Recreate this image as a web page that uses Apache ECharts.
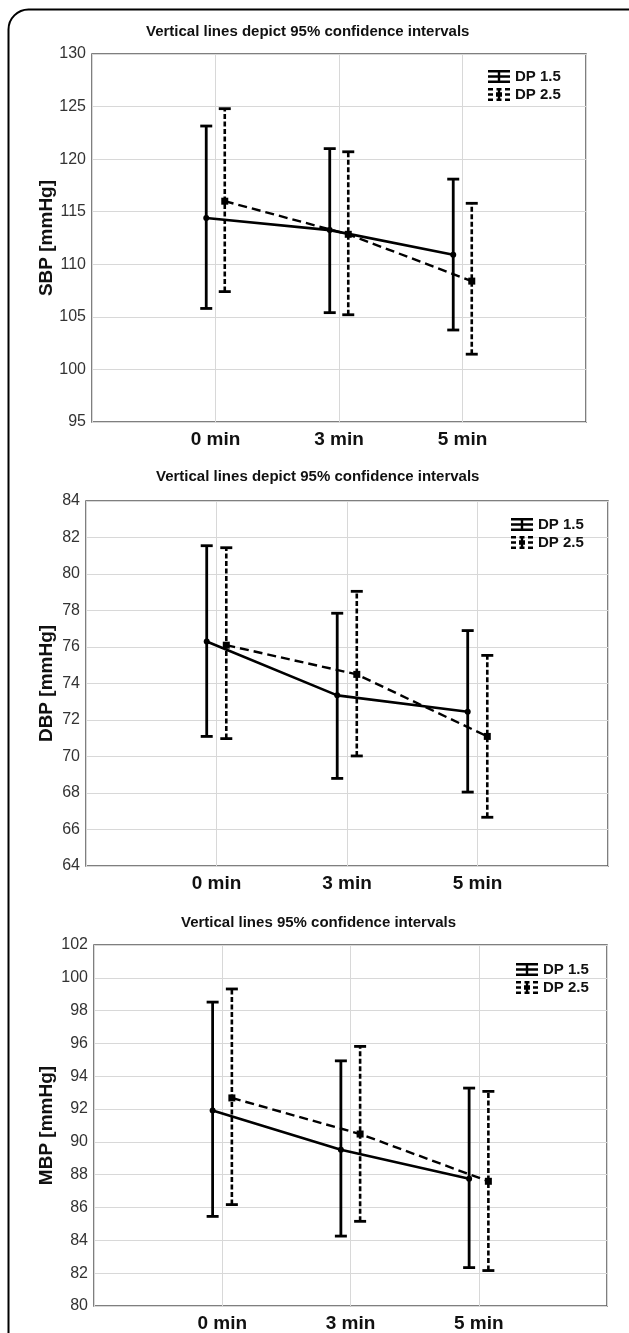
<!DOCTYPE html>
<html>
<head>
<meta charset="utf-8">
<script src="https://cdn.jsdelivr.net/npm/echarts@6/dist/echarts.min.js"></script>
<style>
html,body{margin:0;padding:0;background:#fff;}
#main{width:629px;height:1333px;}
</style>
</head>
<body>
<div id="main"></div>
<script>
// ---- Data ----
const categories = ['0 min', '3 min', '5 min'];
const seriesNames = ['DP 1.5', 'DP 2.5'];

// SBP
const sbpMean15 = [114.4, 113.25, 110.9];
const sbpLow15  = [105.8, 105.4, 103.75];
const sbpHigh15 = [123.15, 121.0, 118.1];
const sbpMean25 = [116.0, 112.85, 108.4];
const sbpLow25  = [107.4, 105.2, 101.45];
const sbpHigh25 = [124.8, 120.7, 115.8];

// DBP
const dbpMean15 = [76.3, 73.35, 72.45];
const dbpLow15  = [71.1, 68.8, 68.05];
const dbpHigh15 = [81.55, 77.85, 76.9];
const dbpMean25 = [76.1, 74.5, 71.1];
const dbpLow25  = [70.98, 70.03, 66.67];
const dbpHigh25 = [81.44, 79.05, 75.54];

// MBP
const mbpMean15 = [91.92, 89.52, 87.76];
const mbpLow15  = [85.46, 84.26, 82.34];
const mbpHigh15 = [98.52, 94.94, 93.28];
const mbpMean25 = [92.68, 90.48, 87.6];
const mbpLow25  = [86.18, 85.16, 82.16];
const mbpHigh25 = [99.32, 95.82, 93.08];

const panelTitles = [
  'Vertical lines depict 95% confidence intervals',
  'Vertical lines depict 95% confidence intervals',
  'Vertical lines 95% confidence intervals'
];
const yNames = ['SBP [mmHg]', 'DBP [mmHg]', 'MBP [mmHg]'];
const yMins = [95, 64, 80];
const yMaxs = [130, 84, 102];
const yIntervals = [5, 2, 2];

// ---- Layout (style only) ----
const FONT = '"Liberation Sans", Arial, sans-serif';
const grids = [
  {left: 92, top: 54, width: 494, height: 368},
  {left: 86, top: 501, width: 522, height: 365},
  {left: 94, top: 945, width: 513, height: 367}
];
const titlePos = [{left: 146, top: 24}, {left: 156, top: 469}, {left: 181, top: 915}];
const legendPos = [{left: 488, top: 69}, {left: 511, top: 517}, {left: 516, top: 962}];
const nameGaps = [36, 30, 38];
const OFF = 0.075;

const panels = [
  {m15: sbpMean15, l15: sbpLow15, h15: sbpHigh15, m25: sbpMean25, l25: sbpLow25, h25: sbpHigh25},
  {m15: dbpMean15, l15: dbpLow15, h15: dbpHigh15, m25: dbpMean25, l25: dbpLow25, h25: dbpHigh25},
  {m15: mbpMean15, l15: mbpLow15, h15: mbpHigh15, m25: mbpMean25, l25: mbpLow25, h25: mbpHigh25}
];

const iconSolid = 'path://M0,0H22V2.4H0Z M0,5.3H22V7.7H0Z M0,10.6H22V13H0Z M9.8,0H12.2V13H9.8Z';
const iconDashed = 'path://M0,0H5V2.4H0Z M8.5,0H13.5V2.4H8.5Z M17,0H22V2.4H17Z ' +
  'M0,5.3H5V7.7H0Z M17,5.3H22V7.7H17Z M8,4.2H14V8.8H8Z ' +
  'M0,10.6H5V13H0Z M8.5,10.6H13.5V13H8.5Z M17,10.6H22V13H17Z M9.8,2.4H12.2V4.2H9.8Z M9.8,8.8H12.2V10.6H9.8Z';

function errRender(dashed) {
  return function (params, api) {
    const x = api.value(0);
    const p1 = api.coord([x, api.value(1)]);
    const p2 = api.coord([x, api.value(2)]);
    const hw = 6;
    const st = {stroke: '#000', lineWidth: 2.8};
    return {
      type: 'group',
      children: [
        {type: 'line', shape: {x1: p1[0], y1: p1[1], x2: p2[0], y2: p2[1]},
         style: Object.assign({}, st, dashed ? {lineDash: [5, 2.5], lineWidth: 2.6} : {})},
        {type: 'line', shape: {x1: p1[0] - hw, y1: p1[1], x2: p1[0] + hw, y2: p1[1]}, style: Object.assign({}, st, {lineWidth: 2.8})},
        {type: 'line', shape: {x1: p2[0] - hw, y1: p2[1], x2: p2[0] + hw, y2: p2[1]}, style: Object.assign({}, st, {lineWidth: 2.8})}
      ]
    };
  };
}

const option = {
  animation: false,
  backgroundColor: '#fff',
  color: ['#000', '#000'],
  textStyle: {fontFamily: FONT},
  title: panelTitles.map((t, i) => ({
    text: t, left: titlePos[i].left, top: titlePos[i].top, padding: 0,
    textStyle: {fontFamily: FONT, fontSize: 15, fontWeight: 'bold', color: '#111'}
  })),
  legend: legendPos.map((p, i) => ({
    left: p.left, top: p.top, orient: 'vertical', padding: 0,
    itemWidth: 22, itemHeight: 13, itemGap: 3, selectedMode: false,
    textStyle: {fontFamily: FONT, fontSize: 15, fontWeight: 'bold', color: '#111', padding: [0, 0, 0, 0]},
    data: [{name: seriesNames[0], icon: iconSolid}, {name: seriesNames[1], icon: iconDashed}]
  })),
  graphic: [{
    type: 'rect', silent: true, z: 100,
    shape: {x: 8.5, y: 9.5, width: 700, height: 1500, r: 20},
    style: {fill: 'none', stroke: '#000', lineWidth: 2}
  }],
  grid: grids.map(g => Object.assign({show: true, borderColor: '#555', borderWidth: 1.5, containLabel: false}, g)),
  xAxis: grids.map((g, i) => ({
    type: 'value', gridIndex: i, min: 0, max: 4, interval: 1,
    axisLine: {show: false}, axisTick: {show: false},
    splitLine: {show: true, lineStyle: {color: '#d8d8d8', width: 1}},
    axisLabel: {
      margin: 8, fontFamily: FONT, fontSize: 19, fontWeight: 'bold', color: '#111',
      formatter: v => (v >= 1 && v <= 3 ? categories[v - 1] : '')
    }
  })),
  yAxis: grids.map((g, i) => ({
    type: 'value', gridIndex: i, min: yMins[i], max: yMaxs[i], interval: yIntervals[i],
    name: yNames[i], nameLocation: 'middle', nameGap: nameGaps[i], nameMoveOverlap: false,
    nameTextStyle: {fontFamily: FONT, fontSize: 19, fontWeight: 'bold', color: '#111'},
    axisLine: {show: false}, axisTick: {show: false},
    splitLine: {show: true, lineStyle: {color: '#d8d8d8', width: 1}},
    axisLabel: {margin: 6, fontFamily: FONT, fontSize: 16, color: '#333'}
  })),
  series: []
};

panels.forEach((p, i) => {
  const e15 = categories.map((c, k) => [k + 1 - OFF, p.l15[k], p.h15[k]]);
  const e25 = categories.map((c, k) => [k + 1 + OFF, p.l25[k], p.h25[k]]);
  option.series.push({
    name: seriesNames[0], type: 'custom', xAxisIndex: i, yAxisIndex: i,
    renderItem: errRender(false), encode: {x: 0, y: [1, 2]}, data: e15, z: 2,
    itemStyle: {color: '#000'}
  });
  option.series.push({
    name: seriesNames[1], type: 'custom', xAxisIndex: i, yAxisIndex: i,
    renderItem: errRender(true), encode: {x: 0, y: [1, 2]}, data: e25, z: 2,
    itemStyle: {color: '#000'}
  });
  option.series.push({
    name: seriesNames[0], type: 'line', xAxisIndex: i, yAxisIndex: i,
    data: categories.map((c, k) => [k + 1 - OFF, p.m15[k]]),
    symbol: 'circle', symbolSize: 6, z: 3,
    lineStyle: {color: '#000', width: 2.6},
    itemStyle: {color: '#000'}
  });
  option.series.push({
    name: seriesNames[1], type: 'line', xAxisIndex: i, yAxisIndex: i,
    data: categories.map((c, k) => [k + 1 + OFF, p.m25[k]]),
    symbol: 'rect', symbolSize: 7, z: 3,
    lineStyle: {color: '#000', width: 2.4, type: [9, 5]},
    itemStyle: {color: '#000'}
  });
});

const chart = echarts.init(document.getElementById('main'), null, {renderer: 'canvas'});
chart.setOption(option);
</script>
</body>
</html>
